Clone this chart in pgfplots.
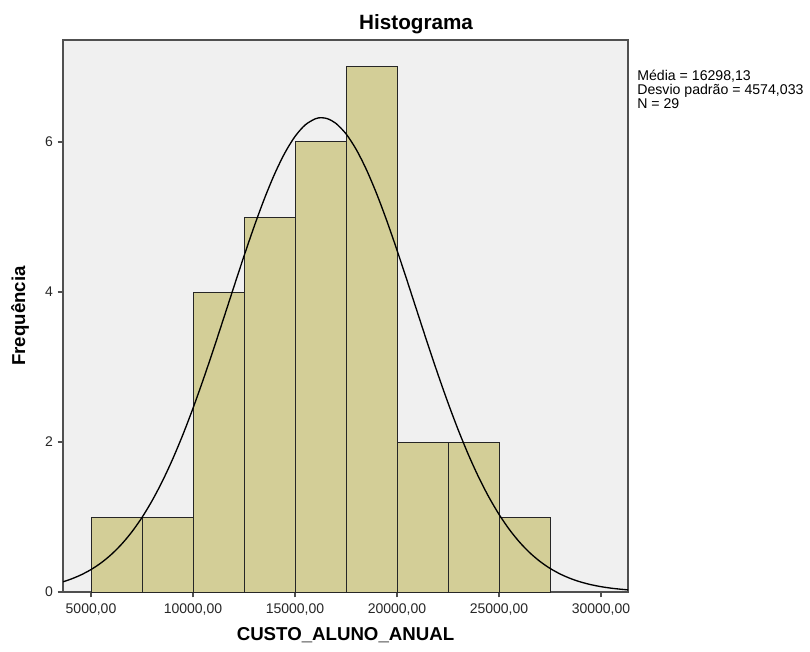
\documentclass[border=0pt]{standalone}
\usepackage{pgfplots}
\pgfplotsset{compat=1.18}
\usepackage{fontspec}
\setmainfont{Liberation Sans}
\definecolor{barfill}{HTML}{D3CE97}
\definecolor{bgfill}{HTML}{F0F0F0}
\definecolor{axcol}{HTML}{505050}
\begin{document}
\begin{tikzpicture}
\path[use as bounding box] (0pt,0pt) rectangle (607.5pt,488.25pt);
\begin{axis}[
  at={(47.25pt,44.25pt)}, anchor=south west,
  scale only axis, width=423.75pt, height=414pt,
  xmin=3627, xmax=31323, ymin=0, ymax=7.36,
  axis background/.style={fill=bgfill},
  axis line style={axcol, line width=0.9pt},
  tick style={axcol, line width=0.9pt},
  tick align=outside, major tick length=4pt,
  xtick pos=bottom, ytick pos=left,
  scaled ticks=false,
  xtick={5000,10000,15000,20000,25000,30000},
  xticklabels={{5000,00},{10000,00},{15000,00},{20000,00},{25000,00},{30000,00}},
  ytick={0,2,4,6},
  /pgf/number format/assume math mode=true,
  ticklabel style={font=\fontsize{10.5}{12}\selectfont, text=black!85},
  xticklabel style={yshift=-1pt},
  title={\textbf{Histograma}},
  title style={at={(axis description cs:0.625,1.005)}, anchor=base, font=\fontsize{15.5}{18}\selectfont},
  xlabel={\textbf{CUSTO\_ALUNO\_ANUAL}},
  xlabel style={at={(axis description cs:0.5,-0.087)}, anchor=base, font=\fontsize{14}{16}\selectfont},
  ylabel={\textbf{Frequência}},
  ylabel style={at={(axis description cs:-0.076,0.5)}, anchor=center, font=\fontsize{14}{16}\selectfont},
  clip mode=individual,
]
\addplot[ybar interval, fill=barfill, draw=black!85, line width=0.75pt] coordinates {
(5000,1) (7500,1) (10000,4) (12500,5) (15000,6) (17500,7) (20000,2) (22500,2) (25000,1) (27500,1)
};
\addplot[black, line width=1pt, smooth, no marks] coordinates {
(3627,0.1363) (4000,0.1703) (4500,0.2271) (5000,0.2992) (5500,0.3897) (6000,0.5016) (6500,0.6378)
(7000,0.8010) (7500,0.9942) (8000,1.2201) (8500,1.4783) (9000,1.7707) (9500,2.0955)
(10000,2.4505) (10500,2.8316) (11000,3.2330) (11500,3.6477) (12000,4.0664) (12500,4.4792)
(13000,4.8758) (13500,5.2443) (14000,5.5736) (14500,5.8532) (15000,6.0738) (15500,6.2279)
(16000,6.3100) (16298,6.3234) (16600,6.3096) (17000,6.2494) (17500,6.1088) (18000,5.9005)
(18500,5.6316) (19000,5.3111) (19500,4.9492) (20000,4.5572) (20500,4.1468) (21000,3.7283)
(21500,3.3121) (22000,2.9076) (22500,2.5220) (23000,2.1615) (23500,1.8307) (24000,1.5320)
(24500,1.2668) (25000,1.0354) (25500,0.8359) (26000,0.6670) (26500,0.5256) (27000,0.4094)
(27500,0.3152) (28000,0.2397) (28500,0.1802) (29000,0.1338) (29500,0.0982) (30000,0.0712)
(30500,0.0510) (31000,0.0361) (31323,0.0287)
};
\node[anchor=north west, inner sep=0pt, align=left, font=\fontsize{10.6}{8.3}\selectfont]
  at (axis description cs:1.016,0.9457)
  {Média = 16298,13\\Desvio padrão = 4574,033\\N = 29};
\end{axis}
\end{tikzpicture}
\end{document}
